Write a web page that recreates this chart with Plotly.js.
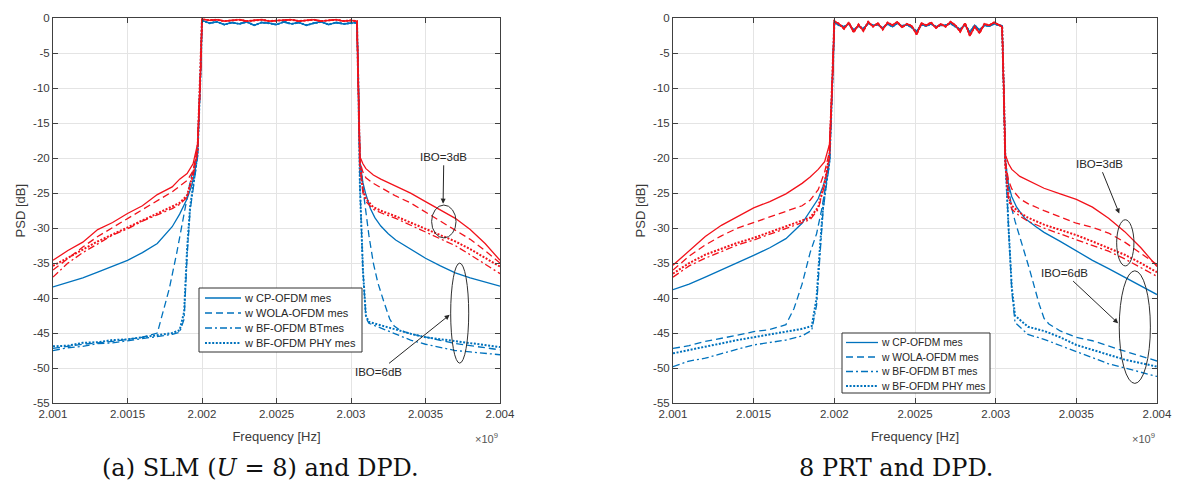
<!DOCTYPE html>
<html>
<head>
<meta charset="utf-8">
<script src="https://cdn.plot.ly/plotly-3.0.1.min.js"></script>
<style>html,body{margin:0;padding:0;background:#fff;}#chart{width:1179px;height:484px;}</style>
</head>
<body>
<div id="chart"></div>
<script>
// ---------- tick labels ----------
const xTickVals = [2.001, 2.0015, 2.002, 2.0025, 2.003, 2.0035, 2.004];
const xTickText = ['2.001', '2.0015', '2.002', '2.0025', '2.003', '2.0035', '2.004'];
const yTickVals = [0, -5, -10, -15, -20, -25, -30, -35, -40, -45, -50, -55];
const yTickText = ['0', '-5', '-10', '-15', '-20', '-25', '-30', '-35', '-40', '-45', '-50', '-55'];
const legendNamesSLM = ['w CP-OFDM mes', 'w WOLA-OFDM mes', 'w BF-OFDM BTmes', 'w BF-OFDM PHY mes'];
const legendNamesPRT = ['w CP-OFDM mes', 'w WOLA-OFDM mes', 'w BF-OFDM BT mes', 'w BF-OFDM PHY mes'];

// ---------- (a) SLM (U=8) and DPD : frequency [x1e9 Hz], PSD [dB] ----------
const slm_pass_f = [2.00200, 2.00205, 2.00210, 2.00215, 2.00220, 2.00225, 2.00230, 2.00235, 2.00240, 2.00245, 2.00250, 2.00255, 2.00260, 2.00265, 2.00270, 2.00275, 2.00280, 2.00285, 2.00290, 2.00295, 2.00300, 2.00304];
const slm_pass_red = [-0.1, -0.3, -0.2, -0.4, -0.3, -0.2, -0.4, -0.3, -0.2, -0.4, -0.3, -0.3, -0.2, -0.4, -0.3, -0.2, -0.4, -0.3, -0.2, -0.4, -0.3, -0.4];
const slm_pass_blue = [-0.3, -0.7, -0.5, -0.9, -0.6, -0.8, -0.5, -1.0, -0.6, -0.7, -0.9, -0.5, -0.8, -0.6, -1.0, -0.7, -0.5, -0.9, -0.6, -0.8, -0.7, -0.6];

const slm_red_lf = [2.0010, 2.0011, 2.0012, 2.0013, 2.0014, 2.0015, 2.0016, 2.0017, 2.0018, 2.00185, 2.0019, 2.00194, 2.00197, 2.00199];
const slm_red_cp_l = [-34.6, -33.2, -32.0, -30.2, -29.2, -27.9, -26.8, -25.2, -24.1, -23.0, -22.2, -20.8, -18.0, -8.0];
const slm_red_wola_l = [-36.0, -34.3, -32.7, -31.2, -29.9, -28.6, -27.4, -26.1, -24.8, -24.0, -23.2, -21.8, -18.5, -8.0];
const slm_red_bt_l = [-37.0, -35.0, -33.5, -32.3, -31.0, -30.1, -29.0, -28.1, -27.2, -26.6, -25.6, -22.5, -19.0, -8.0];
const slm_red_phy_l = [-35.4, -34.2, -33.0, -31.9, -30.9, -29.9, -28.9, -28.0, -27.0, -26.4, -25.3, -22.2, -19.0, -8.0];
const slm_red_rf = [2.00305, 2.00306, 2.00308, 2.0031, 2.00315, 2.0032, 2.0033, 2.0034, 2.0035, 2.0036, 2.0037, 2.0038, 2.0039, 2.0040];
const slm_red_cp_r = [-10, -19.8, -20.8, -21.5, -22.4, -23.0, -24.0, -25.0, -26.2, -27.4, -28.6, -30.2, -32.2, -34.6];
const slm_red_wola_r = [-10, -20.5, -22.0, -22.8, -23.6, -24.2, -25.4, -26.4, -27.7, -29.0, -30.2, -31.6, -33.2, -35.0];
const slm_red_bt_r = [-10, -21, -25, -26.2, -27.3, -27.8, -28.6, -29.6, -30.6, -31.5, -32.5, -33.8, -35.2, -36.5];
const slm_red_phy_r = [-10, -21, -24.5, -25.8, -27.0, -27.5, -28.3, -29.2, -30.2, -31.0, -31.9, -33.0, -34.2, -35.5];

const slm_cp_lf = [2.0010, 2.0011, 2.0012, 2.0013, 2.0014, 2.0015, 2.0016, 2.0017, 2.0018, 2.00185, 2.0019, 2.00193, 2.00195, 2.00197, 2.00199];
const slm_cp_l = [-38.4, -37.8, -37.1, -36.3, -35.5, -34.6, -33.5, -32.2, -29.8, -28.0, -25.8, -24.0, -22.2, -19.5, -8];
const slm_cp_rf = [2.00305, 2.00306, 2.00308, 2.0031, 2.00313, 2.00316, 2.0032, 2.00325, 2.0033, 2.0034, 2.0035, 2.0036, 2.0037, 2.0038, 2.0039, 2.0040];
const slm_cp_r = [-10, -20.5, -23.5, -25.2, -27.2, -28.5, -29.7, -30.8, -31.7, -33.0, -34.3, -35.4, -36.4, -37.1, -37.7, -38.3];

const slm_wola_lf = [2.0010, 2.0012, 2.0014, 2.0016, 2.0017, 2.00174, 2.00178, 2.00183, 2.00188, 2.00192, 2.00195, 2.00197, 2.00199];
const slm_wola_l = [-47.2, -46.6, -46.2, -45.6, -45.0, -41.8, -38.7, -33.6, -27.8, -23.4, -21.0, -18.5, -8];
const slm_wola_rf = [2.00305, 2.00306, 2.00309, 2.00312, 2.00315, 2.00318, 2.00322, 2.00326, 2.00329, 2.00333, 2.0034, 2.0035, 2.0036, 2.0037, 2.0038, 2.0039, 2.004];
const slm_wola_r = [-10, -20, -26, -31, -35, -37.8, -40.5, -43, -44, -44.6, -45.1, -45.6, -46.0, -46.5, -46.8, -47.1, -47.4];

const slm_bf_lf = [2.0010, 2.0011, 2.0012, 2.0013, 2.0014, 2.0015, 2.0016, 2.0017, 2.0018, 2.00185, 2.00188, 2.0019, 2.00192, 2.00195, 2.00197, 2.00199];
const slm_bt_l = [-47.5, -47.1, -46.9, -46.5, -46.4, -46.1, -45.8, -45.5, -45.2, -44.9, -43, -34, -27.5, -23, -19.8, -8];
const slm_phy_l = [-46.9, -46.8, -46.4, -46.3, -46.0, -45.9, -45.6, -45.3, -45.0, -44.6, -42, -33, -27, -22.5, -19.5, -8];
const slm_bf_rf = [2.00305, 2.00306, 2.00308, 2.0031, 2.00312, 2.0032, 2.0033, 2.0034, 2.0035, 2.0036, 2.0037, 2.0038, 2.0039, 2.004];
const slm_bt_r = [-10, -24, -36, -42.8, -43.6, -44.3, -45.2, -46.0, -46.6, -47.1, -47.5, -47.7, -47.9, -48.1];
const slm_phy_r = [-10, -24, -36, -42.5, -43.4, -43.9, -44.5, -45.1, -45.6, -45.9, -46.2, -46.5, -46.8, -47.0];

// ---------- 8 PRT and DPD ----------
const prt_pass_f = [2.00200, 2.00203, 2.00206, 2.00209, 2.00212, 2.00215, 2.00218, 2.00221, 2.00224, 2.00227, 2.00230, 2.00233, 2.00236, 2.00239, 2.00242, 2.00245, 2.00248, 2.00251, 2.00254, 2.00257, 2.00260, 2.00263, 2.00266, 2.00269, 2.00272, 2.00275, 2.00278, 2.00281, 2.00284, 2.00287, 2.00290, 2.00293, 2.00296, 2.00299, 2.00302, 2.00304];
const prt_pass_red = [-0.4, -0.8, -1.5, -0.6, -2.0, -0.9, -1.8, -0.5, -1.2, -0.7, -1.6, -0.6, -1.0, -0.5, -1.3, -0.8, -1.1, -2.3, -0.7, -1.0, -0.6, -1.4, -0.8, -1.2, -0.5, -1.0, -1.9, -0.7, -2.5, -1.2, -2.1, -0.8, -1.0, -0.6, -0.9, -1.2];
const prt_pass_blue = [-0.6, -1.0, -1.2, -0.8, -1.7, -1.1, -1.5, -0.7, -1.0, -0.9, -1.4, -0.8, -1.2, -0.7, -1.1, -0.9, -1.3, -1.9, -0.9, -1.1, -0.8, -1.2, -1.0, -1.0, -0.7, -1.2, -1.6, -0.9, -2.0, -1.0, -1.7, -1.0, -1.1, -0.8, -1.0, -1.1];

const prt_red_lf = [2.0010, 2.0011, 2.0012, 2.0013, 2.0014, 2.0015, 2.0016, 2.0017, 2.0018, 2.00185, 2.0019, 2.00194, 2.00197, 2.00199];
const prt_red_cp_l = [-35.3, -33.3, -31.2, -29.6, -28.3, -27.1, -26.2, -25.1, -23.6, -22.7, -21.6, -20.5, -18, -8];
const prt_red_wola_l = [-36.0, -34.0, -32.4, -31.1, -30.0, -29.2, -28.5, -27.7, -26.8, -26.0, -24.5, -22.0, -19, -8];
const prt_red_bt_l = [-37.0, -35.4, -34.3, -33.3, -32.4, -31.7, -30.9, -30.1, -29.3, -28.8, -27.3, -23.8, -19.8, -8];
const prt_red_phy_l = [-36.5, -35.0, -33.8, -32.9, -32.1, -31.4, -30.6, -29.8, -29.0, -28.5, -27.0, -23.5, -19.5, -8];
const prt_red_rf = [2.00305, 2.00306, 2.00308, 2.0031, 2.00315, 2.0032, 2.0033, 2.0034, 2.0035, 2.0036, 2.0037, 2.0038, 2.0039, 2.0040];
const prt_red_cp_r = [-10, -19.5, -20.8, -21.6, -22.6, -23.2, -24.3, -25.1, -25.9, -27.0, -28.6, -30.5, -32.8, -35.5];
const prt_red_wola_r = [-10, -20.5, -23.2, -24.4, -25.8, -26.5, -27.5, -28.4, -29.3, -29.9, -30.7, -32.0, -33.6, -35.2];
const prt_red_bt_r = [-10, -21, -26, -27.3, -28.3, -29.0, -30.0, -30.8, -31.6, -32.4, -33.3, -34.4, -35.6, -36.9];
const prt_red_phy_r = [-10, -21, -25.5, -26.8, -27.8, -28.5, -29.5, -30.2, -31.0, -31.9, -32.8, -33.8, -35.0, -36.3];

const prt_cp_lf = [2.0010, 2.0011, 2.0012, 2.0013, 2.0014, 2.0015, 2.0016, 2.0017, 2.0018, 2.00185, 2.0019, 2.00193, 2.00195, 2.00197, 2.00199];
const prt_cp_l = [-38.8, -38.0, -37.0, -36.0, -34.9, -33.9, -32.8, -31.5, -29.3, -27.6, -25.8, -24.0, -22.5, -20.3, -8];
const prt_cp_rf = [2.00305, 2.00306, 2.00308, 2.0031, 2.00313, 2.00318, 2.00325, 2.0033, 2.0034, 2.0035, 2.0036, 2.0037, 2.0038, 2.0039, 2.004];
const prt_cp_r = [-10, -20.5, -23.8, -25.5, -27.0, -28.6, -29.8, -30.6, -31.9, -33.3, -34.6, -35.8, -37.0, -38.2, -39.5];

const prt_wola_lf = [2.0010, 2.0011, 2.0012, 2.0013, 2.0014, 2.0015, 2.0016, 2.0017, 2.00175, 2.0018, 2.00185, 2.00189, 2.00192, 2.00195, 2.00197, 2.00199];
const prt_wola_l = [-47.2, -46.8, -46.2, -45.8, -45.3, -44.8, -44.5, -43.8, -41.5, -38.0, -33.5, -30.8, -27.5, -23.5, -20.5, -8];
const prt_wola_rf = [2.00305, 2.00306, 2.00308, 2.0031, 2.00312, 2.00315, 2.00318, 2.00321, 2.00324, 2.00327, 2.0033, 2.00333, 2.0034, 2.0035, 2.0036, 2.0037, 2.0038, 2.0039, 2.004];
const prt_wola_r = [-10, -20, -24.2, -27.2, -29.0, -31.3, -33.4, -35.9, -38.4, -40.9, -42.9, -43.7, -44.7, -45.6, -46.1, -46.9, -47.6, -48.3, -49.0];

const prt_bf_lf = [2.0010, 2.0011, 2.0012, 2.0013, 2.0014, 2.0015, 2.0016, 2.0017, 2.0018, 2.00186, 2.00189, 2.00191, 2.00193, 2.00195, 2.00197, 2.00199];
const prt_bt_l = [-49.8, -49.0, -48.6, -47.9, -47.3, -46.7, -46.4, -46.0, -45.4, -44.6, -41, -34, -27.5, -24, -20.8, -8];
const prt_phy_l = [-47.9, -47.4, -46.9, -46.4, -46.0, -45.6, -45.2, -44.8, -44.4, -44.0, -40, -33, -27, -23.5, -20.5, -8];
const prt_bf_rf = [2.00305, 2.00306, 2.00308, 2.0031, 2.00312, 2.0032, 2.0033, 2.0034, 2.0035, 2.0036, 2.0037, 2.0038, 2.0039, 2.004];
const prt_bt_r = [-10, -20, -30, -39, -43.5, -45.2, -45.9, -46.8, -47.6, -48.5, -49.4, -50.0, -50.6, -51.2];
const prt_phy_r = [-10, -20, -30, -38.5, -42.5, -44.1, -44.7, -45.6, -46.7, -47.4, -48.2, -48.8, -49.3, -49.8];

// ---------- styles ----------
const BLUE = '#0072BD';
const RED = '#F2121B';
const STY = {
  cp:   {dash: 'solid', width: 1.3},
  wola: {dash: '7px,4px', width: 1.3},
  bt:   {dash: '7px,3px,2px,3px', width: 1.3},
  phy:  {dash: '2px,1.6px', width: 2.0}
};
const KEYS = ['cp', 'wola', 'bt', 'phy'];

function trace(lf, lv, pf, pv, rf, rv, color, sty, name, xa, ya) {
  return {
    type: 'scatter', mode: 'lines',
    x: lf.concat(pf, rf), y: lv.concat(pv, rv),
    line: {color: color, dash: sty.dash, width: sty.width},
    name: name, xaxis: xa, yaxis: ya, showlegend: false,
    hoverinfo: 'skip'
  };
}

const data = [
  // SLM blue (IBO = 6 dB)
  trace(slm_cp_lf, slm_cp_l, slm_pass_f, slm_pass_blue, slm_cp_rf, slm_cp_r, BLUE, STY.cp, legendNamesSLM[0], 'x', 'y'),
  trace(slm_wola_lf, slm_wola_l, slm_pass_f, slm_pass_blue, slm_wola_rf, slm_wola_r, BLUE, STY.wola, legendNamesSLM[1], 'x', 'y'),
  trace(slm_bf_lf, slm_bt_l, slm_pass_f, slm_pass_blue, slm_bf_rf, slm_bt_r, BLUE, STY.bt, legendNamesSLM[2], 'x', 'y'),
  trace(slm_bf_lf, slm_phy_l, slm_pass_f, slm_pass_blue, slm_bf_rf, slm_phy_r, BLUE, STY.phy, legendNamesSLM[3], 'x', 'y'),
  // SLM red (IBO = 3 dB)
  trace(slm_red_lf, slm_red_cp_l, slm_pass_f, slm_pass_red, slm_red_rf, slm_red_cp_r, RED, STY.cp, legendNamesSLM[0], 'x', 'y'),
  trace(slm_red_lf, slm_red_wola_l, slm_pass_f, slm_pass_red, slm_red_rf, slm_red_wola_r, RED, STY.wola, legendNamesSLM[1], 'x', 'y'),
  trace(slm_red_lf, slm_red_bt_l, slm_pass_f, slm_pass_red, slm_red_rf, slm_red_bt_r, RED, STY.bt, legendNamesSLM[2], 'x', 'y'),
  trace(slm_red_lf, slm_red_phy_l, slm_pass_f, slm_pass_red, slm_red_rf, slm_red_phy_r, RED, STY.phy, legendNamesSLM[3], 'x', 'y'),
  // PRT blue
  trace(prt_cp_lf, prt_cp_l, prt_pass_f, prt_pass_blue, prt_cp_rf, prt_cp_r, BLUE, STY.cp, legendNamesPRT[0], 'x2', 'y2'),
  trace(prt_wola_lf, prt_wola_l, prt_pass_f, prt_pass_blue, prt_wola_rf, prt_wola_r, BLUE, STY.wola, legendNamesPRT[1], 'x2', 'y2'),
  trace(prt_bf_lf, prt_bt_l, prt_pass_f, prt_pass_blue, prt_bf_rf, prt_bt_r, BLUE, STY.bt, legendNamesPRT[2], 'x2', 'y2'),
  trace(prt_bf_lf, prt_phy_l, prt_pass_f, prt_pass_blue, prt_bf_rf, prt_phy_r, BLUE, STY.phy, legendNamesPRT[3], 'x2', 'y2'),
  // PRT red
  trace(prt_red_lf, prt_red_cp_l, prt_pass_f, prt_pass_red, prt_red_rf, prt_red_cp_r, RED, STY.cp, legendNamesPRT[0], 'x2', 'y2'),
  trace(prt_red_lf, prt_red_wola_l, prt_pass_f, prt_pass_red, prt_red_rf, prt_red_wola_r, RED, STY.wola, legendNamesPRT[1], 'x2', 'y2'),
  trace(prt_red_lf, prt_red_bt_l, prt_pass_f, prt_pass_red, prt_red_rf, prt_red_bt_r, RED, STY.bt, legendNamesPRT[2], 'x2', 'y2'),
  trace(prt_red_lf, prt_red_phy_l, prt_pass_f, prt_pass_red, prt_red_rf, prt_red_phy_r, RED, STY.phy, legendNamesPRT[3], 'x2', 'y2')
];

const AXC = '#404040';
const TXT = '#3a3a3a';
const SANS = 'Liberation Sans, Arial, sans-serif';
function xAxis(domain, anchor) {
  return {
    domain: domain, anchor: anchor, range: [2.001, 2.004],
    tickmode: 'array', tickvals: xTickVals, ticktext: xTickText,
    ticks: 'inside', ticklen: 5, tickwidth: 1, tickcolor: AXC,
    showline: true, linecolor: AXC, linewidth: 1, mirror: 'ticks',
    showgrid: true, gridcolor: '#e4e4e4', gridwidth: 1, zeroline: false,
    tickfont: {family: SANS, size: 11.5, color: TXT},
    title: {text: 'Frequency [Hz]', standoff: 13, font: {family: SANS, size: 13, color: TXT}},
    automargin: false, fixedrange: true
  };
}
function yAxis(domain, anchor) {
  return {
    domain: domain, anchor: anchor, range: [-55, 0],
    tickmode: 'array', tickvals: yTickVals, ticktext: yTickText,
    ticks: 'inside', ticklen: 5, tickwidth: 1, tickcolor: AXC,
    showline: true, linecolor: AXC, linewidth: 1, mirror: 'ticks',
    showgrid: true, gridcolor: '#e4e4e4', gridwidth: 1, zeroline: false,
    tickfont: {family: SANS, size: 11.5, color: TXT},
    title: {text: 'PSD [dB]', standoff: 4, font: {family: SANS, size: 13, color: TXT}},
    automargin: false, fixedrange: true
  };
}

const W = 1179, H = 484;
const px = v => v / W;
const py = v => 1 - v / H;
const annFont = {family: SANS, size: 11.5, color: '#262626'};

// annotation text with an arrow: text sits at (tx, ty), arrow head at (hx, hy)
const pointer = (xr, yr, t, tx, ty, hx, hy) => ({
  xref: xr, yref: yr, axref: xr, ayref: yr, x: hx, y: hy, ax: tx, ay: ty, text: t, font: annFont,
  showarrow: true, arrowhead: 2, arrowsize: 1, arrowwidth: 1, arrowcolor: '#262626', standoff: 0, startstandoff: 1
});
const ellipse = (xr, yr, x0, x1, y0, y1) => ({type: 'circle', xref: xr, yref: yr, x0: x0, x1: x1, y0: y0, y1: y1, line: {color: '#303030', width: 1}});

const shapes = [
  ellipse('x', 'y', 2.003541, 2.003705, -31.4, -26.7),
  ellipse('x', 'y', 2.003669, 2.00379, -49.3, -35.0),
  ellipse('x2', 'y2', 2.00375, 2.003857, -35.4, -28.8),
  ellipse('x2', 'y2', 2.003766, 2.003959, -52.2, -36.1)
];
const annotations = [
  pointer('x', 'y', 'IBO=3dB', 2.003623, -19.8, 2.003618, -26.5),
  pointer('x', 'y', 'IBO=6dB', 2.003187, -50.5, 2.003662, -42.4),
  pointer('x2', 'y2', 'IBO=3dB', 2.003641, -20.8, 2.003766, -27.9),
  pointer('x2', 'y2', 'IBO=6dB', 2.003426, -36.4, 2.003759, -43.6),
  {xref: 'paper', yref: 'paper', x: px(500), y: py(438), xanchor: 'right', yanchor: 'middle', text: '\u00d710<sup>9</sup>', showarrow: false, font: {family: SANS, size: 11, color: '#555'}},
  {xref: 'paper', yref: 'paper', x: px(1157), y: py(438), xanchor: 'right', yanchor: 'middle', text: '\u00d710<sup>9</sup>', showarrow: false, font: {family: SANS, size: 11, color: '#555'}},
  {xref: 'paper', yref: 'paper', x: px(260), y: py(468), xanchor: 'center', yanchor: 'middle', text: '(a) SLM (<i>U</i> = 8) and DPD.', showarrow: false, font: {family: 'DejaVu Serif, serif', size: 24, color: '#111'}},
  {xref: 'paper', yref: 'paper', x: px(896), y: py(468), xanchor: 'center', yanchor: 'middle', text: '8 PRT and DPD.', showarrow: false, font: {family: 'DejaVu Serif, serif', size: 24, color: '#111'}}
];

// legend boxes (MATLAB style, compact rows)
function legendBox(box, lineX, textX, rowY, names, fontSize) {
  shapes.push({type: 'rect', xref: 'paper', yref: 'paper', x0: px(box[0]), x1: px(box[2]), y0: py(box[3]), y1: py(box[1]),
    line: {color: '#303030', width: 1}, fillcolor: '#ffffff', layer: 'above'});
  KEYS.forEach((k, i) => {
    shapes.push({type: 'line', xref: 'paper', yref: 'paper', x0: px(lineX[0]), x1: px(lineX[1]), y0: py(rowY[i]), y1: py(rowY[i]),
      line: {color: BLUE, width: STY[k].width, dash: STY[k].dash}, layer: 'above'});
    annotations.push({xref: 'paper', yref: 'paper', x: px(textX), y: py(rowY[i]), xanchor: 'left', yanchor: 'middle',
      text: names[i], showarrow: false, font: {family: SANS, size: fontSize, color: '#262626'}});
  });
}
legendBox([199, 288, 362, 352], [205, 241], 242, [298, 313, 328, 343], legendNamesSLM, 11);
legendBox([842, 333, 990, 393], [846, 878], 879, [342.5, 357, 371.5, 386], legendNamesPRT, 10.3);

const layout = {
  width: W, height: H, margin: {l: 0, r: 0, t: 0, b: 0},
  paper_bgcolor: '#ffffff', plot_bgcolor: '#ffffff', showlegend: false,
  font: {family: SANS, size: 11.5, color: TXT},
  xaxis: xAxis([px(53), px(500)], 'y'),
  yaxis: yAxis([py(403), py(18.3)], 'x'),
  xaxis2: xAxis([px(673), px(1157)], 'y2'),
  yaxis2: yAxis([py(403), py(18.3)], 'x2'),
  shapes: shapes,
  annotations: annotations
};

Plotly.newPlot('chart', data, layout, {staticPlot: true, displayModeBar: false});
</script>
</body>
</html>
